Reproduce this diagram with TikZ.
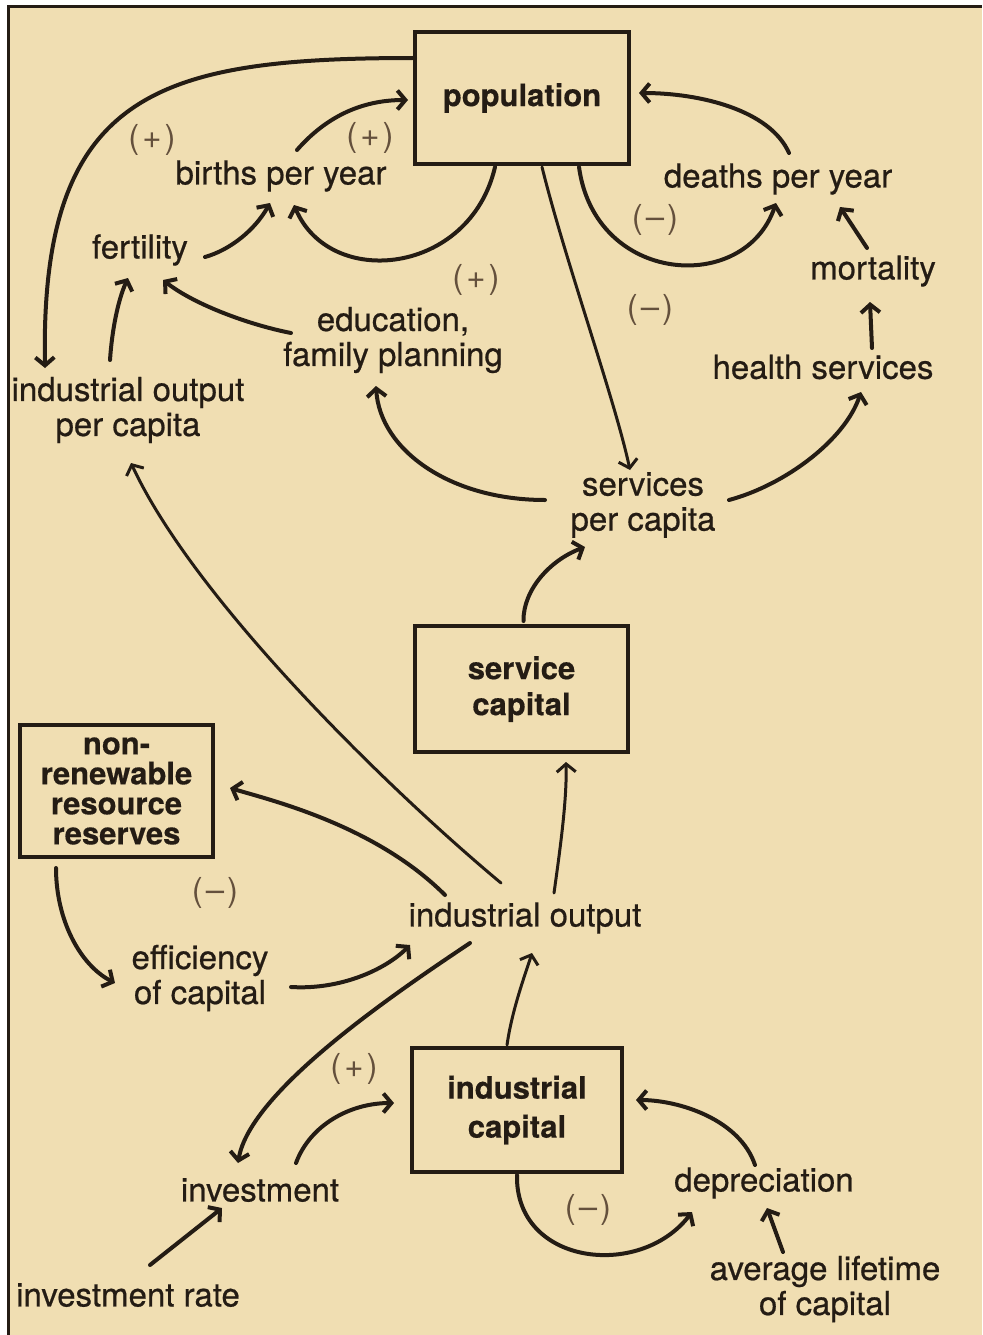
\documentclass[tikz,border=0pt]{standalone}
\usepackage{fontspec}
\setmainfont{TeX Gyre Heros}
\newfontfamily\lblf{TeX Gyre Heros}[FakeBold=0.6]
\newfontfamily\boxf{TeX Gyre Heros Bold}[FakeBold=0.4]
\usetikzlibrary{arrows.meta}
\definecolor{paper}{RGB}{240,222,178}
\definecolor{ink}{RGB}{36,28,20}
\definecolor{signc}{RGB}{100,80,60}
\begin{document}
\begin{tikzpicture}[x=1pt,y=1pt,
  lbl/.style={font=\lblf\fontsize{33}{35}\selectfont, text=ink, inner sep=0pt, align=center},
  boxnode/.style={draw=ink, line width=4pt, text=ink, inner sep=0pt, align=center},
  sgn/.style={font=\fontsize{33}{35}\selectfont, text=signc, inner sep=0pt},
  arr/.style={draw=ink, line width=4pt, line cap=round, -{Straight Barb[length=8pt,width=19pt]}},
  thinarr/.style={arr, line width=3pt}]
\useasboundingbox (0,0) rectangle (982,-1335);
\fill[white] (0,0) rectangle (982,-1335);
\fill[paper] (8,-7) rectangle (982,-1335);
\draw[ink, line width=3pt] (8,-1335) -- (8,-7) -- (982,-7);

% boxes
\node[boxnode, minimum width=214pt, minimum height=132pt, font=\boxf\fontsize{31}{33}\selectfont] (pop) at (522,-98) {population};
\node[boxnode, minimum width=213pt, minimum height=126pt, font=\boxf\fontsize{31}{36}\selectfont] (svc) at (521.5,-689) {service\\capital};
\node[boxnode, minimum width=193pt, minimum height=132pt, font=\boxf\fontsize{31}{30}\selectfont] (nrr) at (116.5,-791) {non-\\renewable\\resource\\reserves};
\node[boxnode, minimum width=210pt, minimum height=124pt, font=\boxf\fontsize{31}{39}\selectfont] (ind) at (517,-1110) {industrial\\capital};

% labels
\node[lbl] (births) at (281,-176) {births per year};
\node[lbl] (deaths) at (778,-179) {deaths per year};
\node[lbl] (fert) at (140,-250) {fertility};
\node[lbl] (mort) at (873,-271) {mortality};
\node[lbl] (edu) at (393,-340) {education,\\family planning};
\node[lbl] (health) at (823,-367) {health services};
\node[lbl] (iopc) at (128,-410) {industrial output\\per capita};
\node[lbl] (spc) at (643,-505) {services\\per capita};
\node[lbl] (io) at (525,-918) {industrial output};
\node[lbl] (eff) at (200,-978) {efficiency\\of capital};
\node[lbl] (inv) at (260,-1190) {investment};
\node[lbl] (dep) at (764,-1183) {depreciation};
\node[lbl] (invrate) at (128,-1295) {investment rate};
\node[lbl] (avg) at (825,-1289) {average lifetime\\of capital};

% signs
\node[sgn] (s1) at (152,-140) {(\kern3pt+\kern3pt)};
\node[sgn] (s2) at (370,-138) {(\kern3pt+\kern3pt)};
\node[sgn] (s3) at (655,-220) {(\kern3pt--\kern3pt)};
\node[sgn] (s4) at (476,-280) {(\kern3pt+\kern3pt)};
\node[sgn] (s5) at (650,-310) {(\kern3pt--\kern3pt)};
\node[sgn] (s6) at (215,-893) {(\kern3pt--\kern3pt)};
\node[sgn] (s7) at (354,-1069) {(\kern3pt+\kern3pt)};
\node[sgn] (s8) at (588,-1210) {(\kern3pt--\kern3pt)};

% connectors
\draw[arr] ([shift={(-107,40)}]pop.center) .. controls (160,-58) and (40,-90) .. ([shift={(-83,42)}]iopc.center);
\draw[arr] ([shift={(16,26)}]births.center) .. controls (325,-118) and (360,-100) .. ([shift={(-114,-2)}]pop.center);
\draw[arr] ([shift={(-27,-69)}]pop.center) .. controls (470,-275) and (330,-290) .. ([shift={(13,-29)}]births.center);
\draw[arr] ([shift={(65,-7)}]fert.center) .. controls (230,-250) and (255,-230) .. ([shift={(-11,-27)}]births.center);
\draw[arr] ([shift={(-18,50)}]iopc.center) .. controls (112,-330) and (118,-300) .. ([shift={(-12,-28)}]fert.center);
\draw[arr] ([shift={(-102,7)}]edu.center) .. controls (250,-325) and (195,-305) .. ([shift={(23,-30)}]fert.center);
\draw[thinarr] ([shift={(20,-69)}]pop.center) .. controls (565,-260) and (615,-400) .. ([shift={(-13,35)}]spc.center);
\draw[arr] ([shift={(57,-69)}]pop.center) .. controls (595,-285) and (745,-295) .. ([shift={(-2,-24)}]deaths.center);
\draw[arr] ([shift={(11,26)}]deaths.center) .. controls (770,-110) and (700,-93) .. ([shift={(117,5)}]pop.center);
\draw[arr] ([shift={(-6,23)}]mort.center) -- ([shift={(62,-28)}]deaths.center);
\draw[arr] ([shift={(49,19)}]health.center) -- ([shift={(-3,-31)}]mort.center);
\draw[arr] ([shift={(-98,5)}]spc.center) .. controls (450,-500) and (380,-450) .. ([shift={(-17,-46)}]edu.center);
\draw[arr] ([shift={(86,5)}]spc.center) .. controls (785,-485) and (845,-440) .. ([shift={(38,-25)}]health.center);
\draw[arr] ([shift={(2,3)}]svc.north) .. controls (523,-590) and (550,-560) .. ([shift={(-58,-42)}]spc.center);
\draw[thinarr] ([shift={(29,25)}]io.center) .. controls (560,-850) and (567,-800) .. ([shift={(44.5,-8)}]svc.south);
\draw[thinarr] ([shift={(-24,35)}]io.center) .. controls (386,-787) and (194,-599) .. ([shift={(3,-53)}]iopc.center);
\draw[arr] ([shift={(-80,23)}]io.center) .. controls (375,-825) and (270,-800) .. ([shift={(15,3)}]nrr.east);
\draw[arr] ([shift={(-60.5,-9)}]nrr.south) .. controls (56,-920) and (80,-965) .. ([shift={(-85,-5)}]eff.center);
\draw[arr] ([shift={(91,-9)}]eff.center) .. controls (340,-990) and (385,-970) .. ([shift={(-115,-27)}]io.center);
\draw[arr] ([shift={(-55,-25)}]io.center) .. controls (400,-990) and (250,-1090) .. ([shift={(-22,27)}]inv.center);
\draw[arr] ([shift={(36,27)}]inv.center) .. controls (310,-1125) and (350,-1103) .. ([shift={(-16,7)}]ind.west);
\draw[thinarr] ([shift={(-10,1)}]ind.north) .. controls (512,-1010) and (525,-975) .. ([shift={(7,-35)}]io.center);
\draw[arr] ([shift={(0,-1)}]ind.south) .. controls (515,-1265) and (640,-1280) .. ([shift={(-72,-29)}]dep.center);
\draw[arr] ([shift={(-9,18)}]dep.center) .. controls (740,-1120) and (680,-1100) .. ([shift={(12,10)}]ind.east);
\draw[arr] ([shift={(-42,37)}]avg.center) -- ([shift={(3,-25)}]dep.center);
\draw[arr] ([shift={(22,30)}]invrate.center) -- ([shift={(-38,-18)}]inv.center);
\end{tikzpicture}
\end{document}
